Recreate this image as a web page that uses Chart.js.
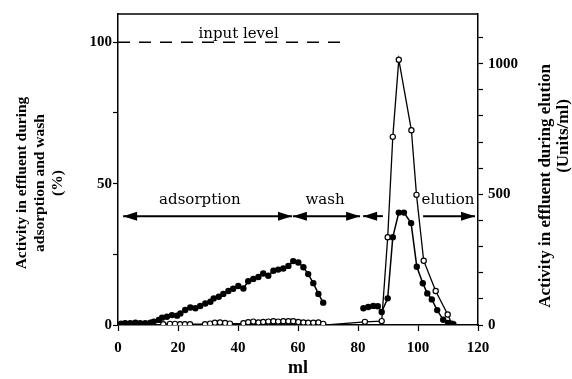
<!DOCTYPE html>
<html><head><meta charset="utf-8">
<script src="https://cdn.jsdelivr.net/npm/chart.js@4/dist/chart.umd.min.js"></script>
<style>html,body{margin:0;padding:0;background:#fff}#wrap{width:572px;height:379px}</style>
</head><body><div id="wrap"><canvas id="c" width="572" height="379"></canvas></div>
<script>
// ---- data ----
const filledAdsX = [1.0, 2.4, 4.1, 5.8, 7.4, 9.1, 10.8, 11.9, 13.6, 14.7, 16.3, 18.0, 19.7, 20.8, 22.4, 24.1, 25.8, 27.4, 29.1, 30.8, 31.9, 33.6, 35.1, 36.8, 38.4, 40.1, 41.8, 43.4, 45.1, 46.8, 48.4, 50.1, 51.8, 53.4, 55.1, 56.8, 58.4, 60.1, 61.8, 63.4, 65.1, 66.8, 68.4];
const filledAdsPct = [0.5, 0.6, 0.6, 0.8, 0.6, 0.6, 0.8, 1.2, 1.8, 2.6, 2.9, 3.5, 3.3, 4.1, 5.3, 6.2, 5.9, 6.7, 7.6, 8.2, 9.4, 10.0, 11.0, 12.0, 12.8, 13.8, 12.9, 15.5, 16.3, 17.0, 18.2, 17.4, 19.2, 19.6, 20.0, 20.9, 22.6, 22.1, 20.4, 18.0, 14.8, 11.0, 7.9];

const openAdsX = [15.1, 17.3, 19.0, 20.7, 22.3, 24.0, 29.0, 30.7, 32.3, 34.0, 35.7, 37.3, 41.8, 43.4, 45.1, 46.8, 48.4, 50.1, 51.8, 53.4, 55.1, 56.8, 58.4, 60.1, 61.8, 63.4, 65.1, 66.8, 68.4];
const openAdsPct = [0.3, 0.4, 0.4, 0.3, 0.3, 0.3, 0.3, 0.5, 0.8, 0.9, 0.7, 0.5, 0.6, 1.0, 1.2, 0.9, 1.1, 1.2, 1.3, 1.2, 1.3, 1.3, 1.3, 1.1, 0.9, 0.8, 0.8, 0.9, 0.4];

const openEluX = [69.5, 82.3, 87.9, 89.9, 91.6, 93.6, 97.8, 99.5, 101.9, 105.9, 109.9, 111.3];
const openEluUnits = [0, 12, 15, 336, 720, 1015, 745, 498, 246, 130, 40, 5];

const filledEluX = [81.8, 83.4, 85.1, 86.6, 87.9, 89.9, 91.6, 93.6, 95.3, 97.7, 99.6, 101.6, 103.1, 104.6, 106.4, 108.4, 110.0, 111.8];
const filledEluUnits = [64, 69, 73, 72, 50, 102, 336, 430, 430, 390, 223, 160, 121, 98, 57, 20, 8, 3];

const inputLevelX = [0, 74];
const inputLevelPct = [100, 100];

const xTicks = [0, 20, 40, 60, 80, 100, 120];
const leftTicks = [0, 25, 50, 75, 100];
const leftTickLabels = [0, 50, 100];
const rightTicks = [0, 100, 200, 300, 400, 500, 600, 700, 800, 900, 1000, 1100];
const rightTickLabels = [0, 500, 1000];

const phaseNames = ['adsorption', 'wash', 'elution'];

// ---- annotation layout (not data) ----
const arrowLevel = 38.5; // % on left axis
const arrows = [
  {from: 1.7, to: 58.0, headL: true, headR: true},
  {from: 58.3, to: 80.7, headL: true, headR: true},
  {from: 81.7, to: 88.3, headL: true, headR: false},
  {from: 101.7, to: 119.0, headL: false, headR: true}
];
const phaseLabelX = [27.3, 69.0, 110.0];

const pts = (xs, ys) => xs.map((x, i) => ({x, y: ys[i]}));
const SERIF = '"Liberation Serif", "DejaVu Serif", serif';

const annot = {
  id: 'annot',
  afterDatasetsDraw(chart) {
    const ctx = chart.ctx, xs = chart.scales.x, ys = chart.scales.y, a = chart.chartArea;
    ctx.save();
    // top frame line
    ctx.strokeStyle = '#000'; ctx.lineWidth = 1.5;
    ctx.beginPath(); ctx.moveTo(a.left, a.top); ctx.lineTo(a.right, a.top); ctx.stroke();

    // arrows
    const yA = ys.getPixelForValue(arrowLevel);
    ctx.fillStyle = '#000'; ctx.lineWidth = 2;
    const head = (xTip, dir) => {
      ctx.beginPath();
      ctx.moveTo(xTip, yA);
      ctx.lineTo(xTip - dir * 14, yA - 4.5);
      ctx.lineTo(xTip - dir * 14, yA + 4.5);
      ctx.closePath(); ctx.fill();
    };
    arrows.forEach(ar => {
      const x1 = xs.getPixelForValue(ar.from), x2 = xs.getPixelForValue(ar.to);
      ctx.beginPath(); ctx.moveTo(x1, yA); ctx.lineTo(x2, yA); ctx.stroke();
      if (ar.headL) head(x1, -1);
      if (ar.headR) head(x2, 1);
    });
    // phase labels
    ctx.font = '15px "DejaVu Serif", serif';
    ctx.textBaseline = 'alphabetic';
    ctx.textAlign = 'center';
    phaseNames.forEach((n, i) => {
      ctx.fillText(n, xs.getPixelForValue(phaseLabelX[i]), yA - 12);
    });
    // input level label
    ctx.fillText('input level', xs.getPixelForValue(40.2), ys.getPixelForValue(inputLevelPct[0]) - 4);

    // axis titles
    ctx.textBaseline = 'middle';
    const vtext = (t, x, y) => { ctx.save(); ctx.translate(x, y); ctx.rotate(-Math.PI / 2); ctx.fillText(t, 0, 0); ctx.restore(); };
    ctx.font = 'bold 15.5px ' + SERIF;
    vtext('Activity in effluent during', 22, 183);
    vtext('adsorption and wash', 40, 183);
    vtext('(%)', 58, 183);
    ctx.font = 'bold 17px ' + SERIF;
    vtext('Activity in effluent during elution', 546, 186);
    vtext('(Units/ml)', 564, 136);
    ctx.restore();
  }
};

const tickFont = {family: SERIF, size: 15, weight: 'bold'};
const fixTicks = arr => s => { s.ticks = arr.map(v => ({value: v})); };

new Chart(document.getElementById('c'), {
  type: 'line',
  data: {
    datasets: [
      {data: pts(inputLevelX, inputLevelPct), yAxisID: 'y', borderColor: '#000', borderWidth: 1.5, borderDash: [12, 9], pointRadius: 0, clip: false},
      {data: pts(openAdsX, openAdsPct), yAxisID: 'y', borderColor: '#000', borderWidth: 1.3, pointRadius: 2.6, pointBorderWidth: 1.2, pointBackgroundColor: '#fff', pointBorderColor: '#000'},
      {data: pts(filledAdsX, filledAdsPct), yAxisID: 'y', borderColor: '#000', borderWidth: 1.5, pointRadius: 3.2, pointBorderWidth: 0, pointBackgroundColor: '#000'},
      {data: pts(filledEluX, filledEluUnits), yAxisID: 'y2', borderColor: '#000', borderWidth: 1.5, pointRadius: 3.2, pointBorderWidth: 0, pointBackgroundColor: '#000'},
      {data: pts(openEluX, openEluUnits), yAxisID: 'y2', borderColor: '#000', borderWidth: 1.3, pointRadius: openEluX.map((v, i) => i === 0 ? 0 : 2.6), pointBorderWidth: 1.2, pointBackgroundColor: '#fff', pointBorderColor: '#000'}
    ]
  },
  options: {
    responsive: false, animation: false, devicePixelRatio: 1,
    layout: {padding: {top: 13, left: 0, right: 0, bottom: 0}},
    plugins: {legend: {display: false}, tooltip: {enabled: false}},
    scales: {
      x: {
        type: 'linear', position: 'bottom', min: 0, max: 120,
        afterBuildTicks: fixTicks(xTicks),
        ticks: {font: tickFont, color: '#000', padding: 8, maxRotation: 0, autoSkip: false},
        grid: {drawOnChartArea: false, tickLength: 6, color: '#000', tickWidth: 1.2},
        border: {color: '#000', width: 1.5},
        title: {display: true, text: 'ml', color: '#000', font: {family: SERIF, size: 18, weight: 'bold'}, padding: {top: 0, bottom: 0}},
        afterFit: s => { s.height = 54; }
      },
      y: {
        position: 'left', min: 0, max: 110,
        afterBuildTicks: fixTicks(leftTicks),
        ticks: {autoSkip: false, font: tickFont, color: '#000', padding: 1,
          callback: v => leftTickLabels.includes(v) ? String(v) : ''},
        grid: {drawOnChartArea: false, tickLength: 5, color: '#000', tickWidth: 1.2},
        border: {color: '#000', width: 1.5},
        afterFit: s => { s.width = 118; }
      },
      y2: {
        position: 'right', min: 0, max: 1190,
        afterBuildTicks: fixTicks(rightTicks),
        ticks: {autoSkip: false, font: tickFont, color: '#000', padding: 5,
          callback: v => rightTickLabels.includes(v) ? String(v) : ''},
        grid: {drawOnChartArea: false, tickLength: 5, color: '#000', tickWidth: 1.2},
        border: {color: '#000', width: 1.5},
        afterFit: s => { s.width = 94; }
      }
    }
  },
  plugins: [annot]
});
</script>
</body></html>
